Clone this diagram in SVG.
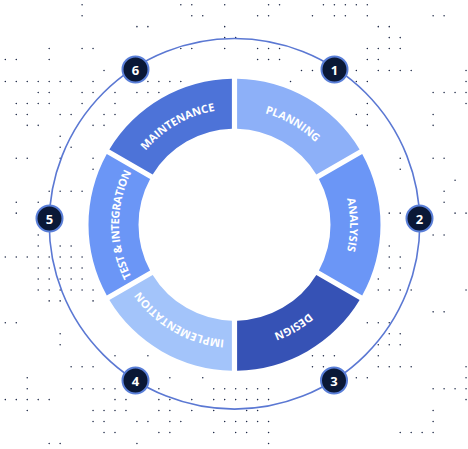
<svg xmlns="http://www.w3.org/2000/svg" xmlns:xlink="http://www.w3.org/1999/xlink" width="468" height="449" viewBox="0 0 468 449">
<defs>
<style>
.seg-label{font-family:"Open Sans","Noto Sans","DejaVu Sans",sans-serif;font-weight:700;font-size:11px;fill:#ffffff;letter-spacing:0px;text-anchor:middle}
.badge circle{fill:#0a1836;stroke:#5a7fd8;stroke-width:2}
.badge text{font-family:"Open Sans","Noto Sans","DejaVu Sans",sans-serif;font-weight:700;font-size:13px;fill:#ffffff;text-anchor:middle;dominant-baseline:central}
.ring{fill:none;stroke:#5b78d3;stroke-width:1.6}
.dots{fill:none;stroke:#1e2947;stroke-width:0.14;stroke-linecap:round}
</style>
<path id="seg" d="M237.10 78.72 A146 146 0 0 1 359.62 149.46 L316.31 174.47 A96 96 0 0 0 237.10 128.74 Z"/>
<path id="arc" d="M119.44 214.63 A115.5 115.5 0 0 1 349.56 214.63"/>
</defs>
<rect width="468" height="449" fill="#ffffff"/>
<g id="background-dots" transform="translate(5.3 4.7) scale(10.97)">
<path class="dots" d="M7 0h0M16 0h0M17 0h0M20 0h0M24 0h0M25 0h0M29 0h0M30 0h0M31 0h0M32 0h0M33 0h0
M7 1h0M17 1h0M18 1h0M23 1h0M24 1h0M28 1h0M30 1h0M31 1h0M33 1h0M39 1h0M40 1h0
M12 2h0M13 2h0M20 2h0M34 2h0M35 2h0
M20 3h0M21 3h0M35 3h0M36 3h0
M4 4h0M7 4h0M8 4h0M16 4h0M17 4h0M20 4h0M23 4h0M24 4h0M25 4h0M33 4h0M34 4h0M35 4h0M36 4h0
M0 5h0M1 5h0M4 5h0M23 5h0M24 5h0M25 5h0M33 5h0M34 5h0
M9 6h0M27 6h0M28 6h0M32 6h0M34 6h0M35 6h0M36 6h0M37 6h0M42 6h0
M0 7h0M1 7h0M2 7h0M3 7h0M4 7h0M5 7h0M6 7h0M8 7h0M13 7h0M14 7h0M15 7h0M16 7h0M26 7h0M32 7h0M33 7h0M42 7h0
M3 8h0M4 8h0M7 8h0M8 8h0M10 8h0M12 8h0M13 8h0M14 8h0M39 8h0M40 8h0M41 8h0M42 8h0
M1 9h0M2 9h0M3 9h0M4 9h0M7 9h0M10 9h0M33 9h0M42 9h0
M1 10h0M2 10h0M5 10h0M6 10h0M9 10h0M10 10h0M32 10h0M33 10h0M39 10h0
M2 11h0M3 11h0M8 11h0M9 11h0M33 11h0M39 11h0
M5 12h0
M5 13h0M6 13h0
M1 14h0M2 14h0M5 14h0M8 14h0M36 14h0M39 14h0M40 14h0
M8 15h0M36 15h0
M41 16h0
M4 17h0M5 17h0M6 17h0M7 17h0M40 17h0
M1 18h0M3 18h0M40 18h0
M1 19h0M35 19h0M36 19h0M41 19h0M42 19h0
M3 21h0M39 21h0M40 21h0
M3 22h0M5 22h0M6 22h0M35 22h0
M0 23h0M1 23h0M2 23h0M3 23h0M4 23h0M5 23h0M6 23h0M7 23h0M35 23h0M36 23h0
M3 24h0M4 24h0M5 24h0M6 24h0M7 24h0M35 24h0M36 24h0
M3 25h0M4 25h0M5 25h0M6 25h0M7 25h0M34 25h0
M3 26h0M4 26h0M5 26h0M6 26h0M7 26h0M8 26h0M34 26h0M35 26h0M36 26h0M37 26h0M42 26h0
M4 27h0M5 27h0M8 27h0
M39 28h0M40 28h0
M0 29h0M1 29h0M33 29h0M34 29h0M35 29h0
M5 30h0M35 30h0M36 30h0
M5 31h0M34 31h0M35 31h0M36 31h0
M10 32h0M13 32h0M28 32h0M29 32h0M30 32h0M34 32h0
M6 33h0M7 33h0M8 33h0M28 33h0M29 33h0M34 33h0M35 33h0M36 33h0M37 33h0M42 33h0
M2 34h0M15 34h0M18 34h0M32 34h0M33 34h0M42 34h0
M2 35h0M6 35h0M7 35h0M8 35h0M9 35h0M10 35h0M14 35h0M19 35h0M20 35h0M21 35h0M22 35h0M23 35h0M24 35h0M39 35h0M40 35h0M41 35h0M42 35h0
M0 36h0M1 36h0M2 36h0M3 36h0M4 36h0M10 36h0M11 36h0M14 36h0M15 36h0M17 36h0M19 36h0M20 36h0M21 36h0M22 36h0M23 36h0M24 36h0M42 36h0
M2 37h0M8 37h0M9 37h0M10 37h0M11 37h0M14 37h0M15 37h0M17 37h0M19 37h0M22 37h0M23 37h0M39 37h0
M8 38h0M9 38h0M12 38h0M13 38h0M15 38h0M16 38h0M20 38h0M21 38h0M22 38h0M23 38h0M24 38h0M39 38h0
M9 39h0M10 39h0M14 39h0M15 39h0M19 39h0M21 39h0M22 39h0M24 39h0M36 39h0M37 39h0M38 39h0M39 39h0
M4 40h0M5 40h0M12 40h0M24 40h0"/>
</g>
<g id="connectors">
<circle class="ring" cx="234.5" cy="223.8" r="185.3"/>
</g>
<g id="planning">
<use xlink:href="#seg" href="#seg" fill="#8db0f8"/>
<text class="seg-label" transform="rotate(30 234.5 224.7)"><textPath xlink:href="#arc" href="#arc" startOffset="50%">PLANNING</textPath></text>
</g>
<g id="analysis">
<use xlink:href="#seg" href="#seg" fill="#6b96f6" transform="rotate(60 234.5 224.7)"/>
<text class="seg-label" transform="rotate(90 234.5 224.7)"><textPath xlink:href="#arc" href="#arc" startOffset="50%">ANALYSIS</textPath></text>
</g>
<g id="design">
<use xlink:href="#seg" href="#seg" fill="#3652b5" transform="rotate(120 234.5 224.7)"/>
<text class="seg-label" transform="rotate(150 234.5 224.7)"><textPath xlink:href="#arc" href="#arc" startOffset="50%">DESIGN</textPath></text>
</g>
<g id="implementation">
<use xlink:href="#seg" href="#seg" fill="#a3c4fa" transform="rotate(180 234.5 224.7)"/>
<text class="seg-label" transform="rotate(210 234.5 224.7)"><textPath xlink:href="#arc" href="#arc" startOffset="50%">IMPLEMENTATION</textPath></text>
</g>
<g id="test-integration">
<use xlink:href="#seg" href="#seg" fill="#6b96f6" transform="rotate(240 234.5 224.7)"/>
<text class="seg-label" style="letter-spacing:-0.35px" transform="rotate(270 234.5 224.7)"><textPath xlink:href="#arc" href="#arc" startOffset="50%">TEST &amp; INTEGRATION</textPath></text>
</g>
<g id="maintenance">
<use xlink:href="#seg" href="#seg" fill="#4d73d8" transform="rotate(300 234.5 224.7)"/>
<text class="seg-label" transform="rotate(330 234.5 224.7)"><textPath xlink:href="#arc" href="#arc" startOffset="50%">MAINTENANCE</textPath></text>
</g>
<g id="badge-1" class="badge"><circle cx="334.5" cy="69.5" r="13"/><text x="334.5" y="70">1</text></g>
<g id="badge-2" class="badge"><circle cx="419.5" cy="218.5" r="13"/><text x="419.5" y="219">2</text></g>
<g id="badge-3" class="badge"><circle cx="334" cy="380.5" r="13"/><text x="334" y="381">3</text></g>
<g id="badge-4" class="badge"><circle cx="135.5" cy="380.5" r="13"/><text x="135.5" y="381">4</text></g>
<g id="badge-5" class="badge"><circle cx="49.5" cy="218.5" r="13"/><text x="49.5" y="219">5</text></g>
<g id="badge-6" class="badge"><circle cx="135.5" cy="69.5" r="13"/><text x="135.5" y="70">6</text></g>
</svg>
